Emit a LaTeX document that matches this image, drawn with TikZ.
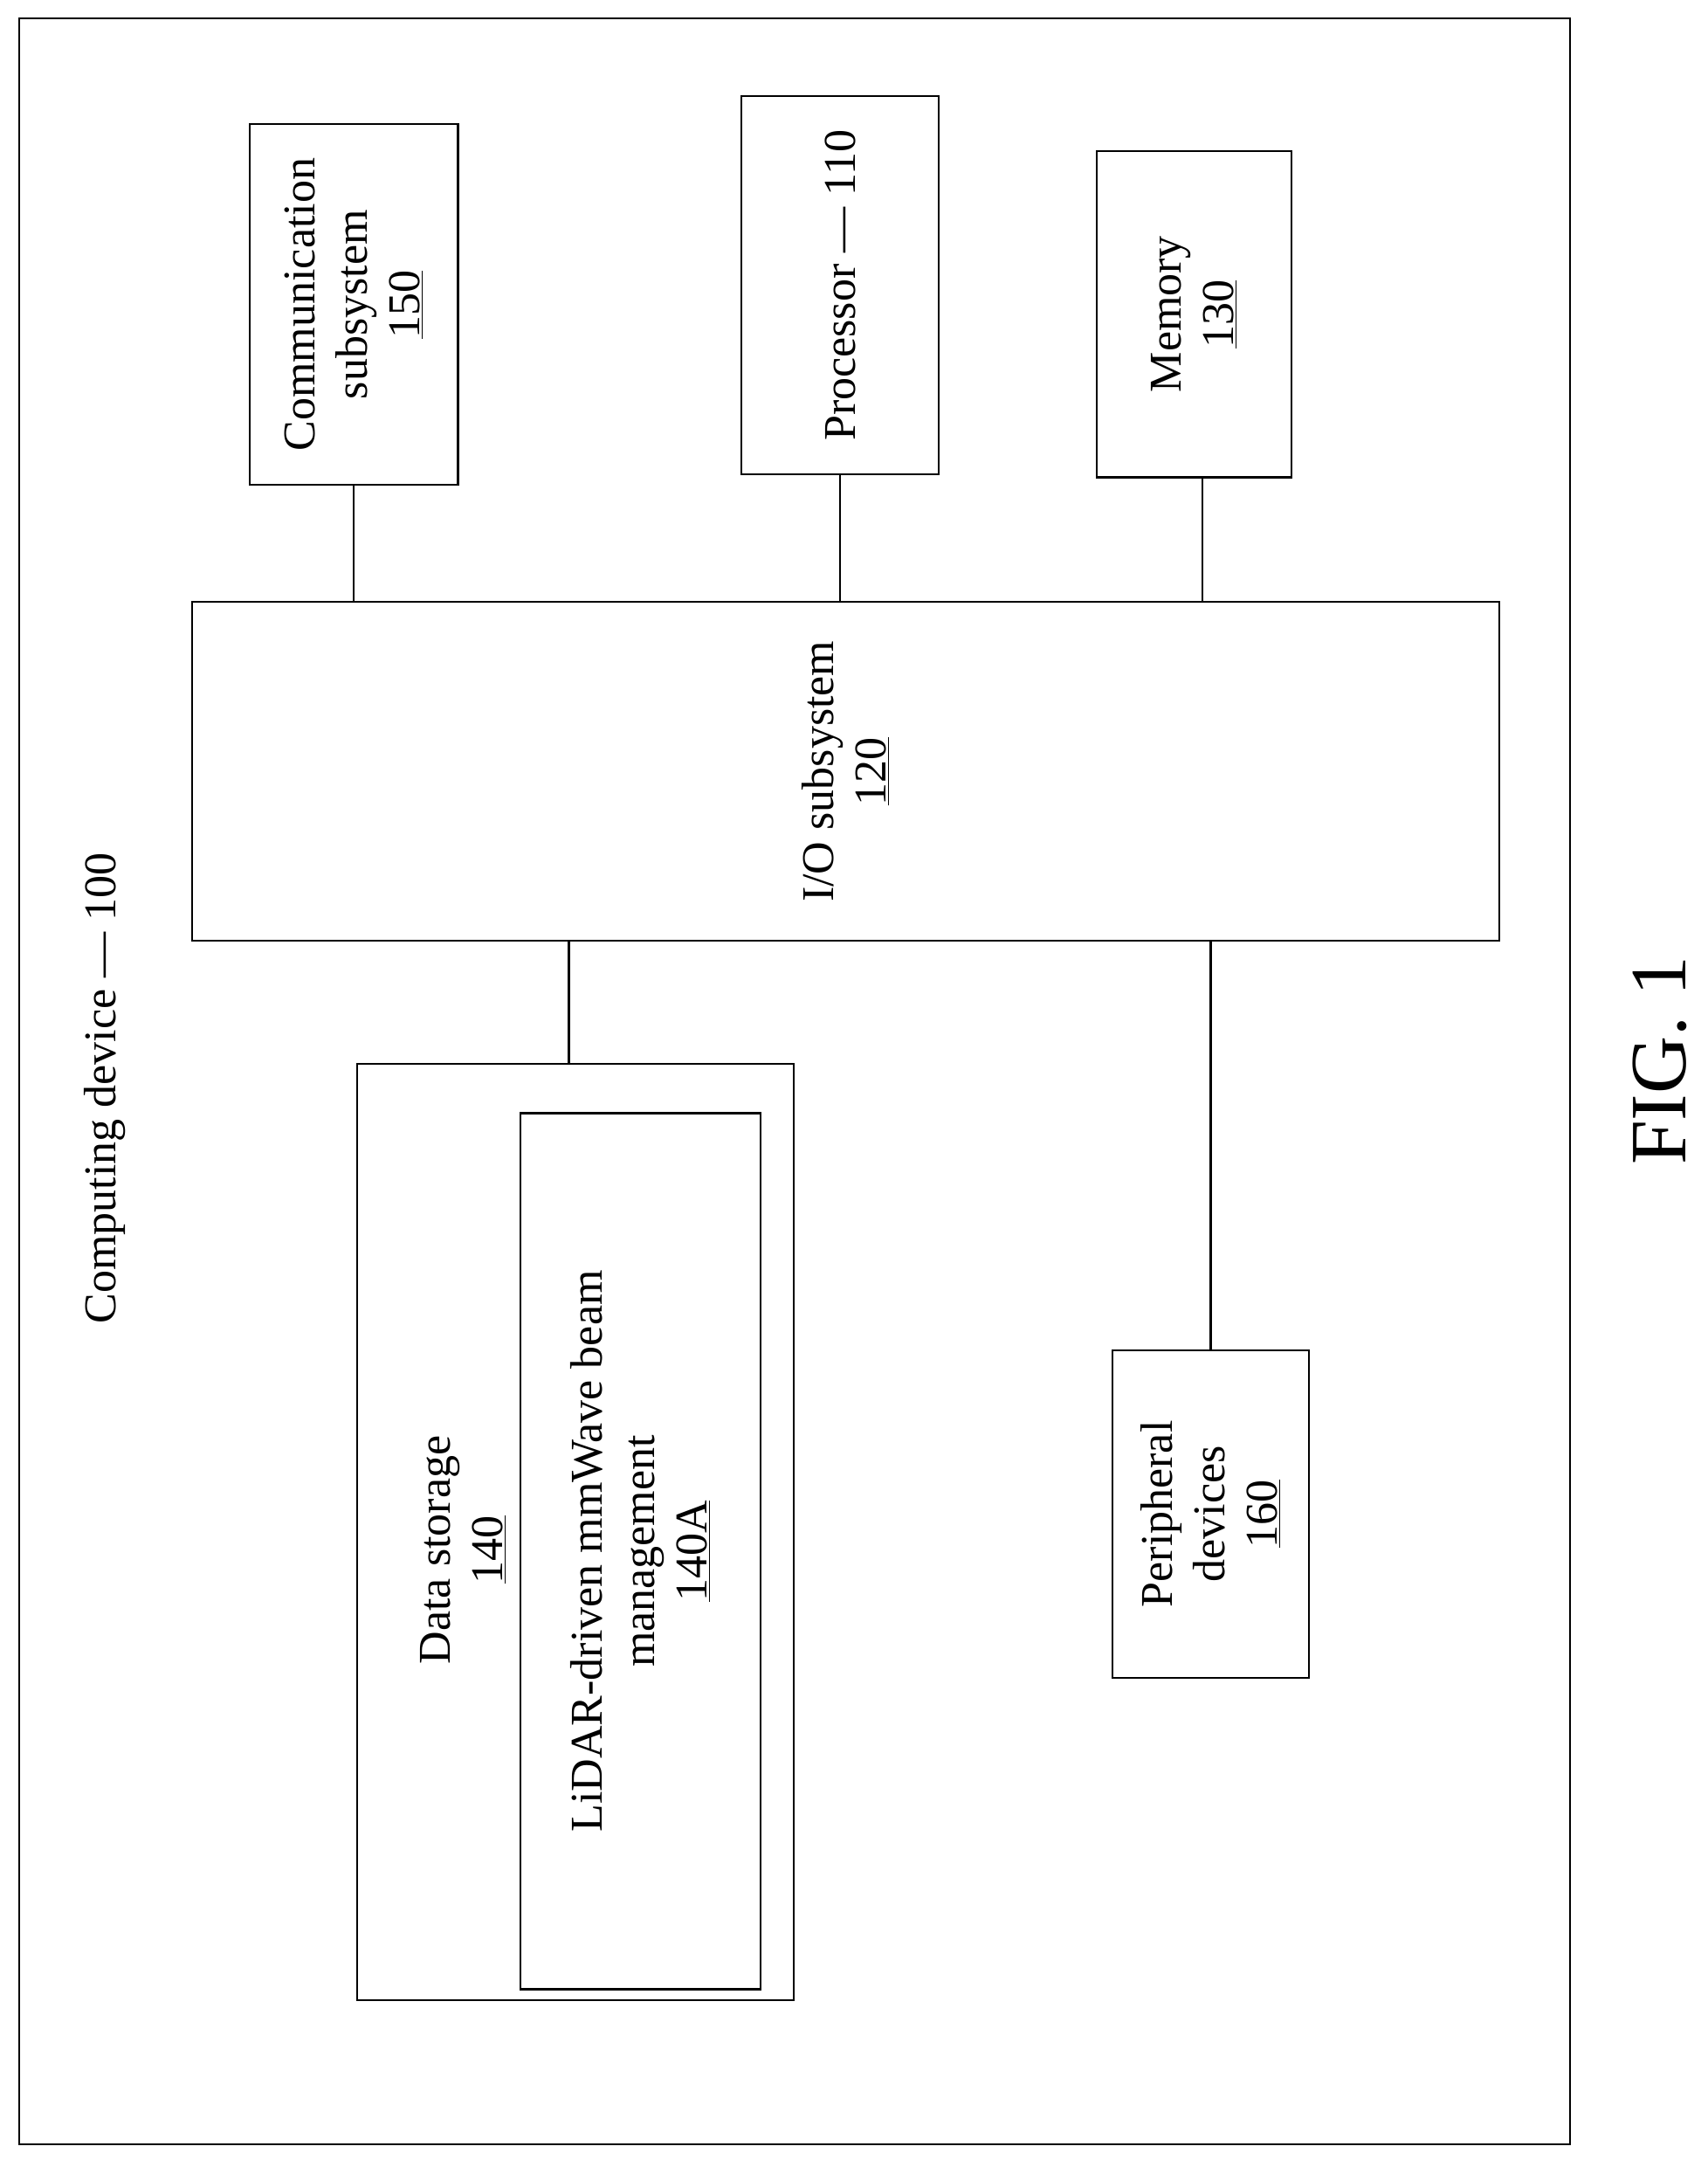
\documentclass[tikz,border=0pt]{standalone}
\usepackage{fontspec}
\setmainfont{Liberation Serif}
\usetikzlibrary{calc}

\begin{document}
\begin{tikzpicture}[x=1pt,y=-1pt,
                box/.style = {draw, line width=1.4pt, rotate=90, inner sep=0pt,
                              align=center, font=\fontsize{33}{38}\selectfont},
                lbl/.style = {rotate=90, inner sep=0pt, align=center,
                              font=\fontsize{33}{38}\selectfont},
                link/.style = {line width=1.4pt}
                ]
                \useasboundingbox (0,0) rectangle (1240,1573);
                % outer frame
                \node[box, minimum width=1543pt, minimum height=1126pt] (dev) at (577,785) {};
                \node[lbl] (devlbl) at (76,790) {Computing device --- 100};
                % top row
                \node[box, minimum width=262pt, minimum height=151pt] (comm) at (257,221)
                    {Communication\\subsystem\\\underline{150}};
                \node[box, minimum width=275pt, minimum height=143pt] (proc) at (610,207)
                    {Processor --- 110};
                \node[box, minimum width=237pt, minimum height=141pt] (mem) at (867,228)
                    {Memory\\\underline{130}};
                % central bus
                \node[box, minimum width=246pt, minimum height=949pt] (io) at (614,560)
                    {I/O subsystem\\\underline{120}};
                % bottom row
                \node[box, minimum width=680pt, minimum height=317pt] (store) at (418,1112) {};
                \node[lbl] (storelbl) at (336,1125) {Data storage\\\underline{140}};
                \node[box, minimum width=636pt, minimum height=174pt] (beam) at (465,1126)
                    {LiDAR-driven mmWave beam\\management\\\underline{140A}};
                \node[box, minimum width=238pt, minimum height=143pt] (peri) at (879,1099)
                    {Peripheral\\devices\\\underline{160}};
                \node[lbl, font=\fontsize{58}{66}\selectfont] (fig) at (1205,770) {FIG. 1};
                % connectors
                \draw[link] (comm.west) -- (comm.west |- io.east);
                \draw[link] (proc.west) -- (proc.west |- io.east);
                \draw[link] ($(mem.west)+(6,0)$) -- ($(mem.west |- io.east)+(6,0)$);
                \draw[link] (io.west -| store.east) ++(-5,0) coordinate (ds) -- (ds |- store.east);
                \draw[link] (io.west -| peri.east) -- (peri.east);
\end{tikzpicture}
\end{document}
